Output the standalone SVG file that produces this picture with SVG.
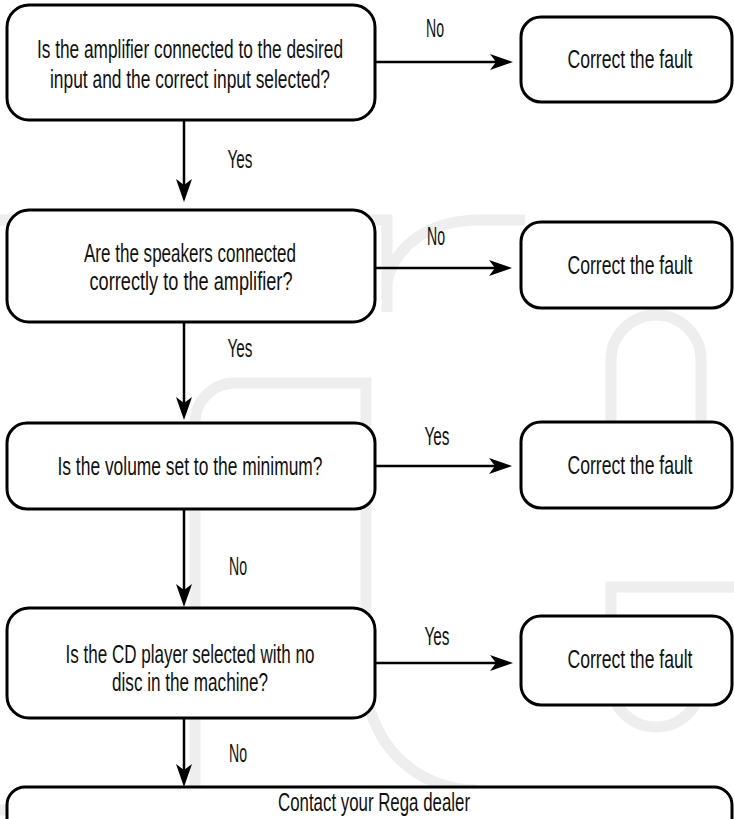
<svg xmlns="http://www.w3.org/2000/svg" width="734" height="819" viewBox="0 0 734 819">
<defs>
<style>
.wm{fill:none;stroke:#eeeeee;stroke-width:11}
.box{fill:#ffffff;stroke:#000000;stroke-width:3}
.cn{fill:none;stroke:#000000;stroke-width:2.5}
text{font-family:"Liberation Sans",Arial,sans-serif;font-size:25px;fill:#111111}
.c{text-anchor:middle}
</style>
<marker id="ah" markerUnits="userSpaceOnUse" markerWidth="24" markerHeight="17" refX="15" refY="8" orient="auto">
<path d="M0,0 L23,8 L0,16 L6,8 Z" fill="#000000"/>
</marker>
</defs>
<rect width="734" height="819" fill="#ffffff"/>
<g id="watermark">
<path class="wm" d="M0,220 H387 V312"/>
<path class="wm" d="M387,282 C395,245 430,220 480,220 H525"/>
<path class="wm" d="M611,470 V360 A45,45 0 0 1 701,360 V470"/>
<path class="wm" d="M734,587 H611 V682 A45,45 0 0 0 701,682 V640"/>
<path class="wm" d="M195,819 V423 A40,40 0 0 1 235,383 H366 V680 A110,110 0 0 0 476,790"/>
<path class="wm" d="M0,810 H195"/>
</g>
<g id="connectors">
<line class="cn" x1="375" y1="62" x2="505" y2="62" marker-end="url(#ah)"/>
<line class="cn" x1="375" y1="268" x2="504" y2="268" marker-end="url(#ah)"/>
<line class="cn" x1="375" y1="466" x2="504" y2="466" marker-end="url(#ah)"/>
<line class="cn" x1="375" y1="663" x2="505" y2="663" marker-end="url(#ah)"/>
<line class="cn" x1="184" y1="120" x2="184" y2="194" marker-end="url(#ah)"/>
<line class="cn" x1="184" y1="322" x2="184" y2="412" marker-end="url(#ah)"/>
<line class="cn" x1="184" y1="509" x2="184" y2="599" marker-end="url(#ah)"/>
<line class="cn" x1="184" y1="718" x2="184" y2="779" marker-end="url(#ah)"/>
<text class="c" x="435" y="37" textLength="18" lengthAdjust="spacingAndGlyphs">No</text>
<text class="c" x="436" y="245" textLength="18" lengthAdjust="spacingAndGlyphs">No</text>
<text class="c" x="437" y="445" textLength="25" lengthAdjust="spacingAndGlyphs">Yes</text>
<text class="c" x="437" y="645" textLength="25" lengthAdjust="spacingAndGlyphs">Yes</text>
<text class="c" x="240" y="168" textLength="25" lengthAdjust="spacingAndGlyphs">Yes</text>
<text class="c" x="240" y="357" textLength="25" lengthAdjust="spacingAndGlyphs">Yes</text>
<text class="c" x="238" y="575" textLength="18" lengthAdjust="spacingAndGlyphs">No</text>
<text class="c" x="238" y="762" textLength="18" lengthAdjust="spacingAndGlyphs">No</text>
</g>
<g id="q1">
<rect class="box" x="7" y="5" width="368" height="115" rx="22"/>
<text class="c" x="190" y="58" textLength="306" lengthAdjust="spacingAndGlyphs">Is the amplifier connected to the desired</text>
<text class="c" x="190" y="88" textLength="280" lengthAdjust="spacingAndGlyphs">input and the correct input selected?</text>
</g>
<g id="f1">
<rect class="box" x="521" y="17" width="211" height="85" rx="20"/>
<text class="c" x="630" y="68" textLength="125" lengthAdjust="spacingAndGlyphs">Correct the fault</text>
</g>
<g id="q2">
<rect class="box" x="7" y="210" width="368" height="112" rx="22"/>
<text class="c" x="190" y="262" textLength="212" lengthAdjust="spacingAndGlyphs">Are the speakers connected</text>
<text class="c" x="191" y="290" textLength="203" lengthAdjust="spacingAndGlyphs">correctly to the amplifier?</text>
</g>
<g id="f2">
<rect class="box" x="521" y="222" width="211" height="86" rx="20"/>
<text class="c" x="630" y="274" textLength="125" lengthAdjust="spacingAndGlyphs">Correct the fault</text>
</g>
<g id="q3">
<rect class="box" x="7" y="423" width="368" height="86" rx="20"/>
<text class="c" x="190" y="475" textLength="265" lengthAdjust="spacingAndGlyphs">Is the volume set to the minimum?</text>
</g>
<g id="f3">
<rect class="box" x="521" y="422" width="211" height="86" rx="20"/>
<text class="c" x="630" y="474" textLength="125" lengthAdjust="spacingAndGlyphs">Correct the fault</text>
</g>
<g id="q4">
<rect class="box" x="7" y="608" width="368" height="110" rx="22"/>
<text class="c" x="190" y="663" textLength="249" lengthAdjust="spacingAndGlyphs">Is the CD player selected with no</text>
<text class="c" x="190" y="691" textLength="156" lengthAdjust="spacingAndGlyphs">disc in the machine?</text>
</g>
<g id="f4">
<rect class="box" x="521" y="616" width="211" height="89" rx="20"/>
<text class="c" x="630" y="668" textLength="125" lengthAdjust="spacingAndGlyphs">Correct the fault</text>
</g>
<g id="dealer">
<rect class="box" x="7" y="787" width="725" height="60" rx="18"/>
<text class="c" x="374" y="811" textLength="192" lengthAdjust="spacingAndGlyphs">Contact your Rega dealer</text>
</g>
</svg>
